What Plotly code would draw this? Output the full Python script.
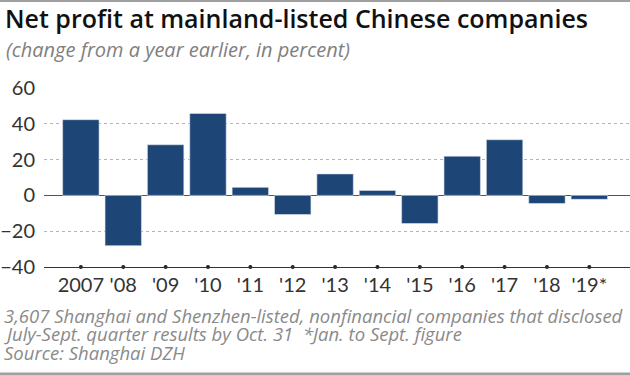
import plotly.graph_objects as go

years = ["2007", "'08", "'09", "'10", "'11", "'12", "'13", "'14", "'15", "'16", "'17", "'18", "'19*"]
profit_change = [42.3, -28.1, 28.3, 45.8, 4.5, -10.7, 12.0, 2.8, -15.7, 21.9, 31.1, -4.5, -2.2]
y_ticks = [-40, -20, 0, 20, 40, 60]
y_tick_labels = ["\u221240", "\u221220", "0", "20", "40", "60"]

title_text = "Net profit at mainland-listed Chinese companies"
subtitle_text = "(change from a year earlier, in percent)"
footnotes = [
    "3,607 Shanghai and Shenzhen-listed, nonfinancial companies that disclosed",
    "July-Sept. quarter results by Oct. 31  *Jan. to Sept. figure",
    "Source: Shanghai DZH",
]

W, H = 630, 376
ML, MR, MT, MB = 44, 0, 88, 109
PW, PH = W - ML - MR, H - MT - MB

def px_x(x):
    return (x - ML) / PW

def px_y(y):
    return (H - MB - y) / PH

FONT = "Lato"
TFONT = "Open Sans"

fig = go.Figure()
fig.add_trace(go.Bar(
    x=years, y=profit_change,
    marker=dict(color="#1d4677", line=dict(color="#dfe6ee", width=0.6)),
    width=0.86, showlegend=False, hoverinfo="x+y",
))
fig.add_trace(go.Scatter(
    x=years, y=[y_ticks[0]] * len(years), mode="markers",
    marker=dict(color="#222222", size=4), cliponaxis=False,
    showlegend=False, hoverinfo="skip",
))

fig.update_layout(
    width=W, height=H,
    margin=dict(l=ML, r=MR, t=MT, b=MB),
    paper_bgcolor="white", plot_bgcolor="white",
    font=dict(family=FONT, color="#333333"),
    title=dict(text=title_text, x=5 / W, xanchor="left", xref="container",
               y=1 - 19 / H, yanchor="middle", yref="container",
               font=dict(family=TFONT, size=25, color="#111111", weight=600)),
    xaxis=dict(type="category", range=[-0.87, 12.96], showgrid=False,
               showline=True, linecolor="#333333", linewidth=1.2,
               ticks="", ticklen=0, tickfont=dict(size=20, color="#333333"),
               ticklabelstandoff=0, zeroline=False, fixedrange=True),
    yaxis=dict(range=[-40, 60], tickvals=y_ticks, ticktext=y_tick_labels,
               showgrid=True, gridcolor="#b5b5b5", griddash="dot", gridwidth=1,
               zeroline=True, zerolinecolor="#555555", zerolinewidth=1.2,
               tickfont=dict(size=20, color="#333333"), ticks="",
               ticklabelstandoff=8, showline=False, fixedrange=True),
    bargap=0.14,
)

annotations = [dict(text=subtitle_text, x=px_x(4), y=px_y(49), xref="paper", yref="paper",
                    xanchor="left", yanchor="middle", showarrow=False,
                    font=dict(family=TFONT, size=20, color="#808080", style="italic"))]
for i, line in enumerate(footnotes):
    annotations.append(dict(text=line, x=px_x(2), y=px_y(315 + 18.5 * i), xref="paper", yref="paper",
                            xanchor="left", yanchor="middle", showarrow=False,
                            font=dict(family=TFONT, size=18.5, color="#8a8a8a", style="italic")))
fig.update_layout(annotations=annotations)

fig.add_shape(type="line", xref="paper", yref="paper", x0=px_x(0), x1=px_x(W),
              y0=px_y(1), y1=px_y(1), line=dict(color="#a0a0a0", width=2))
fig.add_shape(type="line", xref="paper", yref="paper", x0=px_x(0), x1=px_x(W),
              y0=px_y(374), y1=px_y(374), line=dict(color="#a0a0a0", width=3))

fig.write_html("out.html", config={"displayModeBar": False},
               post_script="document.body.style.margin='0';")
